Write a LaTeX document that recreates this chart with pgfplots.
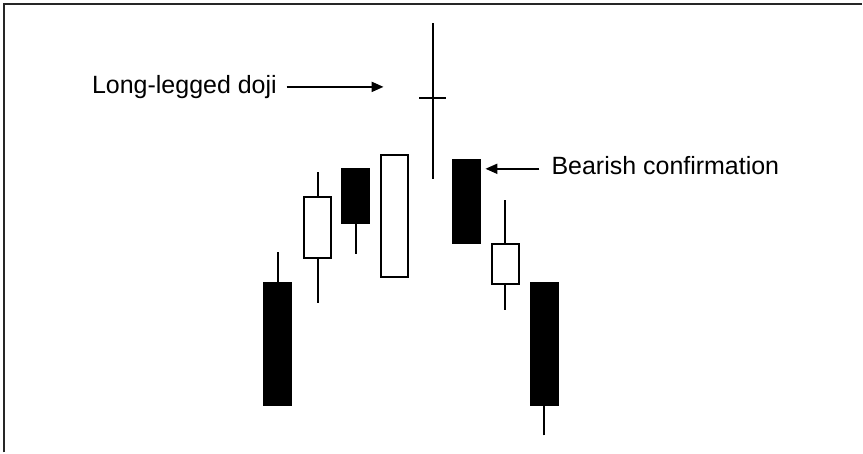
\documentclass[border=0pt]{standalone}
\usepackage{pgfplots}
\pgfplotsset{compat=1.18}
\usepackage{pgfplotstable}
\usepackage{fontspec}
\setmainfont{Liberation Sans}
\usetikzlibrary{arrows.meta}

% x = candle centre, lo/hi = body bottom/top, low/high = wick ends, black = filled body
\pgfplotstableread{
x   lo   hi   low  high  black
278 48   170  48   201   1
318 195  256  150  281   0
356 230  284  199  284   1
395 176  298  176  298   0
433 355  355  274  430   1
467 210  293  210  293   1
506 169  209  143  253   0
545 48   170  17   170   1
}\candles

\begin{document}
\begin{tikzpicture}
\pgfplotsset{
  base/.style={
    scale only axis, width=863pt, height=453pt,
    xmin=0, xmax=863, ymin=0, ymax=453,
    hide axis, clip=false,
    at={(0,0)}, anchor=south west,
  }
}
% wicks
\begin{axis}[base]
\addplot[draw=none, mark=none, forget plot,
  error bars/.cd, y dir=plus, y explicit,
  error bar style={draw=black, line width=2pt}, error mark=none]
  table[x=x, y=low, y error expr=\thisrow{high}-\thisrow{low}] {\candles};
% doji cross bar
\addplot[draw=none, mark=none, forget plot,
  error bars/.cd, x dir=both, x fixed=13.5,
  error bar style={draw=black, line width=2pt}, error mark=none]
  coordinates {(433,355)};
% frame
\draw[line width=2pt, black!85] (axis cs:4.5,0) -- (axis cs:4.5,448.5) -- (axis cs:863,448.5);
% annotations
\node[anchor=base west, inner sep=0pt, font=\fontsize{25}{30}\selectfont] at (axis cs:92,359) {Long-legged doji};
\draw[line width=2pt, -{Triangle[length=12pt,width=10pt]}] (axis cs:287,366) -- (axis cs:384,366);
\node[anchor=base west, inner sep=0pt, font=\fontsize{25}{30}\selectfont] at (axis cs:552,278) {Bearish confirmation};
\draw[line width=2pt, -{Triangle[length=12pt,width=10pt]}] (axis cs:540,284) -- (axis cs:486,284);
\end{axis}
% bodies
\begin{axis}[base, ybar stacked, bar width=27, bar shift=0pt]
\addplot[draw=none, fill=none] table[x=x, y=lo] {\candles};
\addplot[draw=black, fill=black, line width=2pt]
  table[x=x, y expr={\thisrow{black}*(\thisrow{hi}-\thisrow{lo})}] {\candles};
\addplot[draw=black, fill=white, line width=2pt]
  table[x=x, y expr={(1-\thisrow{black})*(\thisrow{hi}-\thisrow{lo})}] {\candles};
\end{axis}
\useasboundingbox (0,0) rectangle (863pt,453pt);
\end{tikzpicture}
\end{document}
